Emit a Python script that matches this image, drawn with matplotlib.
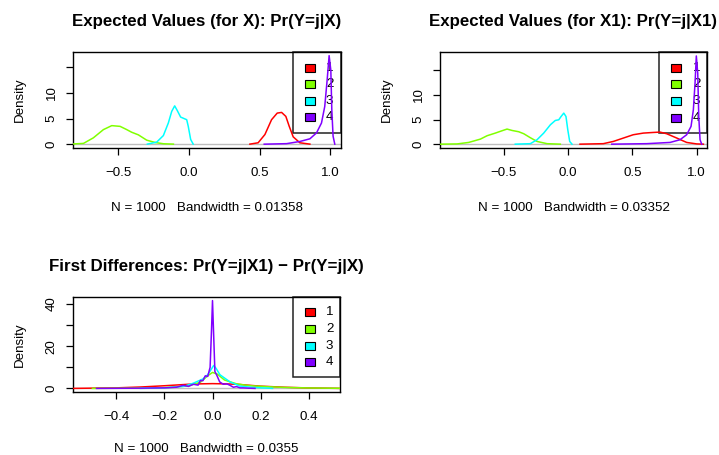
import matplotlib
matplotlib.use("Agg")
import matplotlib.pyplot as plt
from matplotlib.patches import Rectangle

plt.rcParams['font.family'] = ['Liberation Sans', 'DejaVu Sans']

W, H = 719, 455

cats = ['1', '2', '3', '4']
colors = ['#FF0000', '#80FF00', '#00FFFF', '#8000FF']

# --- Expected values (for X), density estimates
evx_red_x = [0.431, 0.489, 0.537, 0.584, 0.624, 0.655, 0.685, 0.709, 0.737, 0.784, 0.855]
evx_red_y = [0.06, 0.32, 1.92, 4.79, 6.07, 6.2, 5.43, 3.5, 1.47, 0.32, 0.06]
evx_green_x = [-0.817, -0.746, -0.676, -0.605, -0.546, -0.487, -0.44, -0.405, -0.358, -0.299, -0.24, -0.18, -0.11]
evx_green_y = [0.1, 0.2, 1.28, 2.87, 3.64, 3.5, 2.87, 2.36, 1.86, 0.83, 0.38, 0.13, 0.06]
evx_cyan_x = [-0.294, -0.228, -0.181, -0.146, -0.122, -0.101, -0.083, -0.059, -0.016, -0.005, 0.012, 0.03]
evx_cyan_y = [0.06, 0.45, 1.72, 4.15, 6.4, 7.47, 6.58, 5.3, 4.79, 3.5, 0.96, 0.06]
evx_purple_x = [0.532, 0.69, 0.784, 0.855, 0.902, 0.937, 0.96, 0.977, 0.991, 1.003, 1.01, 1.019, 1.031]
evx_purple_y = [0.05, 0.15, 0.57, 1.09, 2.24, 4.15, 7.34, 12.45, 17.2, 14.4, 6.7, 1.6, 0.06]

# --- Expected values (for X1)
evx1_red_x = [0.093, 0.274, 0.352, 0.43, 0.507, 0.585, 0.663, 0.715, 0.767, 0.845, 0.922, 1.0, 1.052]
evx1_red_y = [0.05, 0.15, 0.6, 1.28, 1.95, 2.28, 2.41, 2.48, 2.15, 1.28, 0.4, 0.1, 0.05]
evx1_green_x = [-0.992, -0.862, -0.772, -0.681, -0.629, -0.565, -0.513, -0.474, -0.435, -0.383, -0.344, -0.293, -0.241, -0.163, -0.06]
evx1_green_y = [0.05, 0.1, 0.4, 1.07, 1.75, 2.28, 2.75, 3.09, 2.81, 2.55, 2.15, 1.35, 0.6, 0.15, 0.05]
evx1_cyan_x = [-0.41, -0.293, -0.241, -0.189, -0.137, -0.099, -0.072, -0.054, -0.033, -0.016, -0.002, 0.013, 0.031]
evx1_cyan_y = [0.05, 0.15, 0.94, 2.28, 3.96, 4.82, 4.96, 5.62, 6.3, 5.62, 2.95, 0.6, 0.05]
evx1_purple_x = [0.34, 0.611, 0.793, 0.87, 0.922, 0.956, 0.974, 0.987, 0.997, 1.008, 1.016, 1.026, 1.039]
evx1_purple_y = [0.05, 0.15, 0.4, 0.94, 1.95, 3.63, 6.98, 12.3, 17.8, 14.3, 5.6, 0.94, 0.05]

# --- First differences
fd_red_x = [-0.58, -0.4, -0.3, -0.2, -0.1, -0.05, 0.0, 0.05, 0.1, 0.2, 0.3, 0.4, 0.53]
fd_red_y = [0.05, 0.3, 0.7, 1.3, 2.0, 2.2, 2.3, 2.2, 2.0, 1.1, 0.6, 0.25, 0.05]
fd_green_x = [-0.5, -0.3, -0.2, -0.1, -0.05, -0.02, 0.0, 0.02, 0.05, 0.1, 0.15, 0.2, 0.3, 0.4, 0.53]
fd_green_y = [0.05, 0.2, 0.4, 1.2, 3.0, 6.0, 7.6, 6.8, 4.0, 2.2, 1.4, 1.0, 0.5, 0.25, 0.1]
fd_cyan_x = [-0.3, -0.2, -0.12, -0.08, -0.04, -0.02, 0.0, 0.005, 0.015, 0.031, 0.073, 0.115, 0.17, 0.25]
fd_cyan_y = [0.05, 0.3, 1.0, 2.5, 4.5, 6.5, 10.0, 10.9, 9.5, 6.5, 3.1, 1.1, 0.5, 0.05]
fd_purple_x = [-0.483, -0.3, -0.2, -0.15, -0.122, -0.1, -0.08, -0.06, -0.05, -0.04, -0.03, -0.02, -0.01, -0.004,
               0.0, 0.004, 0.01, 0.017, 0.03, 0.045, 0.06, 0.073, 0.087, 0.1, 0.115, 0.128, 0.15, 0.177]
fd_purple_y = [0.05, 0.15, 0.3, 0.6, 1.5, 1.0, 2.0, 1.6, 3.8, 3.7, 6.0, 5.7, 10.0, 28.0,
               41.6, 28.0, 8.0, 6.5, 3.1, 2.0, 2.2, 1.5, 0.6, 0.9, 0.3, 0.3, 0.15, 0.05]

ax_px = {
    'evx': (73, 52, 341, 148),
    'evx1': (440, 52, 707, 148),
    'fd': (73, 297, 340, 392),
}

FS = 9.6


def rect(l, t, r, b):
    return [l / W, 1 - b / H, (r - l) / W, (b - t) / H]


def legend(ax, box, left, bottom, sq_x, txt_x, rows):
    l, t, r, b = box
    fx = lambda x: (x - l) / (r - l)
    fy = lambda y: (b - y) / (b - t)
    ax.add_patch(Rectangle((fx(left), fy(bottom)), 1 - fx(left), 1 - fy(bottom),
                           transform=ax.transAxes, fill=False, edgecolor='#222222',
                           linewidth=1.1, clip_on=False, zorder=2))
    sw, sh = 10 / (r - l), 8 / (b - t)
    for c, lab, y in zip(colors, cats, rows):
        ax.add_patch(Rectangle((fx(sq_x) - sw / 2, fy(y) - sh / 2), sw, sh,
                               transform=ax.transAxes, facecolor=c, edgecolor='black',
                               linewidth=0.8, clip_on=False, zorder=2))
        ax.text(fx(txt_x), fy(y), lab, transform=ax.transAxes, ha='left', va='center',
                fontsize=FS, clip_on=False, zorder=2)


def panel(ax, curves, xlim, ylim, xticks, xlabels, yticks, ylabels, title, bw, xpad=16.5):
    ax.axhline(0, color='#BEBEBE', linewidth=1.0, zorder=1)
    for (xs, ys), c in zip(curves, colors):
        ax.plot(xs, ys, color=c, linewidth=1.1, zorder=3)
    ax.set_xlim(*xlim)
    ax.set_ylim(*ylim)
    ax.set_xticks(xticks)
    ax.set_xticklabels(xlabels)
    ax.set_yticks(yticks)
    ax.set_yticklabels(ylabels, rotation=90, va='center')
    ax.tick_params(axis='x', length=5, width=0.9, pad=9, labelsize=FS)
    ax.tick_params(axis='y', length=5, width=0.9, pad=6, labelsize=FS)
    for s in ax.spines.values():
        s.set_linewidth(1.0)
    ax.set_title(title, fontsize=12.2, fontweight='bold', pad=19)
    ax.set_xlabel('N = 1000   Bandwidth = ' + bw, fontsize=FS, labelpad=xpad)
    ax.set_ylabel('Density', fontsize=FS, labelpad=14.5)


fig = plt.figure(figsize=(W / 100, H / 100), dpi=100)

ax1 = fig.add_axes(rect(*ax_px['evx']))
panel(ax1, [(evx_red_x, evx_red_y), (evx_green_x, evx_green_y),
            (evx_cyan_x, evx_cyan_y), (evx_purple_x, evx_purple_y)],
      (-0.82, 1.075), (-0.69, 17.9), [-0.5, 0.0, 0.5, 1.0], ['\u22120.5', '0.0', '0.5', '1.0'],
      [0, 5, 10, 15], ['0', '5', '10', ''], 'Expected Values (for X): Pr(Y=j|X)', '0.01358')
legend(ax1, ax_px['evx'], 293, 133, 310, 326, [68.3, 84.3, 100.7, 116.7])

ax2 = fig.add_axes(rect(*ax_px['evx1']))
panel(ax2, [(evx1_red_x, evx1_red_y), (evx1_green_x, evx1_green_y),
            (evx1_cyan_x, evx1_cyan_y), (evx1_purple_x, evx1_purple_y)],
      (-0.995, 1.08), (-0.72, 18.6), [-0.5, 0.0, 0.5, 1.0], ['\u22120.5', '0.0', '0.5', '1.0'],
      [0, 5, 10, 15], ['0', '5', '10', ''], 'Expected Values (for X1): Pr(Y=j|X1)', '0.03352')
legend(ax2, ax_px['evx1'], 659, 133, 676, 693, [68.3, 84.3, 101, 117.7])

ax3 = fig.add_axes(rect(*ax_px['fd']))
panel(ax3, [(fd_red_x, fd_red_y), (fd_green_x, fd_green_y),
            (fd_cyan_x, fd_cyan_y), (fd_purple_x, fd_purple_y)],
      (-0.581, 0.531), (-1.66, 43.3), [-0.4, -0.2, 0.0, 0.2, 0.4],
      ['\u22120.4', '\u22120.2', '0.0', '0.2', '0.4'],
      [0, 10, 20, 30, 40], ['0', '', '20', '', '40'],
      'First Differences: Pr(Y=j|X1) \u2212 Pr(Y=j|X)', '0.0355', xpad=14)
legend(ax3, ax_px['fd'], 293, 377, 310, 326, [312.3, 329, 345.7, 361.7])

fig.savefig('out.png', dpi=100)
